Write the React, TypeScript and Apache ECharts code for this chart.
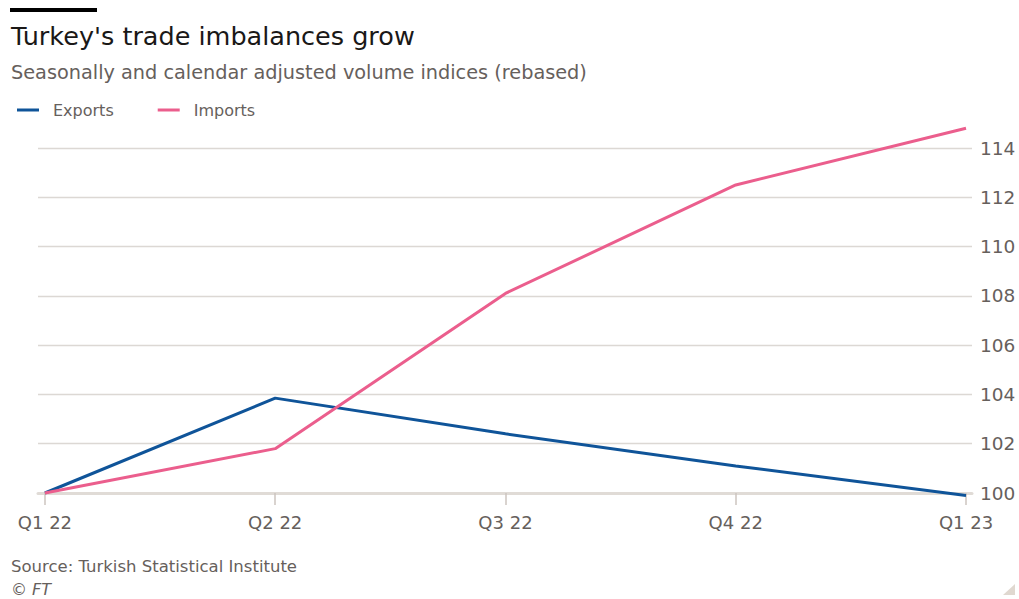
import React, { useEffect, useRef } from "react";
import * as echarts from "echarts";

const categories = ["Q1 22", "Q2 22", "Q3 22", "Q4 22", "Q1 23"];
const exportsValues = [100, 103.85, 102.4, 101.1, 99.9];
const importsValues = [100, 101.8, 108.1, 112.5, 114.8];
const yTicks = [100, 102, 104, 106, 108, 110, 112, 114];

const FONT = "'DejaVu Sans', 'Open Sans', sans-serif";

export default function App() {
  const ref = useRef<HTMLDivElement>(null);
  useEffect(() => {
    document.body.style.margin = "0";
    const chart = echarts.init(ref.current!, null, { renderer: "svg" });
    const toPts = (arr: number[]) => arr.map((v, i) => [i, v]);
    chart.setOption({
      animation: false,
      backgroundColor: "#ffffff",
      textStyle: { fontFamily: FONT },
      graphic: [
        { type: "rect", shape: { x: 10, y: 8, width: 87, height: 4 }, style: { fill: "#000000" } },
        {
          type: "text",
          left: 11,
          top: 23,
          style: { text: "Turkey's trade imbalances grow", fontSize: 25.5, fill: "#1a1817", fontFamily: FONT },
        },
        {
          type: "text",
          left: 11,
          top: 63,
          style: { text: "Seasonally and calendar adjusted volume indices (rebased)", fontSize: 19.3, fill: "#66605c", fontFamily: FONT },
        },
        {
          type: "text",
          left: 11,
          top: 558,
          style: { text: "Source: Turkish Statistical Institute", fontSize: 16.5, fill: "#66605c", fontFamily: FONT },
        },
        {
          type: "text",
          left: 11,
          top: 581,
          style: { text: "© FT", fontSize: 16, fontStyle: "italic", fill: "#66605c", fontFamily: FONT },
        },
        {
          type: "polygon",
          shape: { points: [[1015, 584], [1015, 595], [1003, 595]] },
          style: { fill: "#e0d8d0" },
        },
      ],
      legend: {
        left: 12,
        top: 97,
        icon: "rect",
        itemWidth: 22,
        itemHeight: 3,
        itemGap: 44,
        textStyle: { fontSize: 16, color: "#66605c", fontFamily: FONT, padding: [0, 0, 0, 9] },
        data: ["Exports", "Imports"],
      },
      grid: { left: 38, right: 47, top: 148, bottom: 106 },
      xAxis: {
        type: "value",
        min: -0.03,
        max: 4.026,
        axisLine: { show: true, onZero: false, lineStyle: { color: "#e0dbd6", width: 3 } },
        axisTick: { show: true, customValues: [0, 1, 2, 3, 4], length: 12, lineStyle: { color: "#ccc5bf", width: 1.5 } },
        axisLabel: {
          customValues: [0, 1, 2, 3, 4],
          formatter: (v: number) => categories[Math.round(v)],
          fontSize: 18,
          color: "#66605c",
          margin: 20,
          fontFamily: FONT,
        },
        splitLine: { show: false },
      },
      yAxis: {
        type: "value",
        position: "right",
        min: yTicks[0],
        max: yTicks[yTicks.length - 1],
        interval: 2,
        axisLine: { show: false },
        axisTick: { show: false },
        axisLabel: { fontSize: 18.5, color: "#66605c", margin: 8, fontFamily: FONT },
        splitLine: { show: true, lineStyle: { color: "#dcd8d4", width: 1.3 } },
      },
      series: [
        {
          name: "Exports",
          type: "line",
          data: toPts(exportsValues),
          symbol: "none",
          clip: false,
          itemStyle: { color: "#0f5499" },
          lineStyle: { color: "#0f5499", width: 3 },
        },
        {
          name: "Imports",
          type: "line",
          data: toPts(importsValues),
          symbol: "none",
          clip: false,
          itemStyle: { color: "#eb5e8d" },
          lineStyle: { color: "#eb5e8d", width: 3 },
        },
      ],
    });
    return () => chart.dispose();
  }, []);
  return <div ref={ref} style={{ width: 1019, height: 599 }} />;
}
